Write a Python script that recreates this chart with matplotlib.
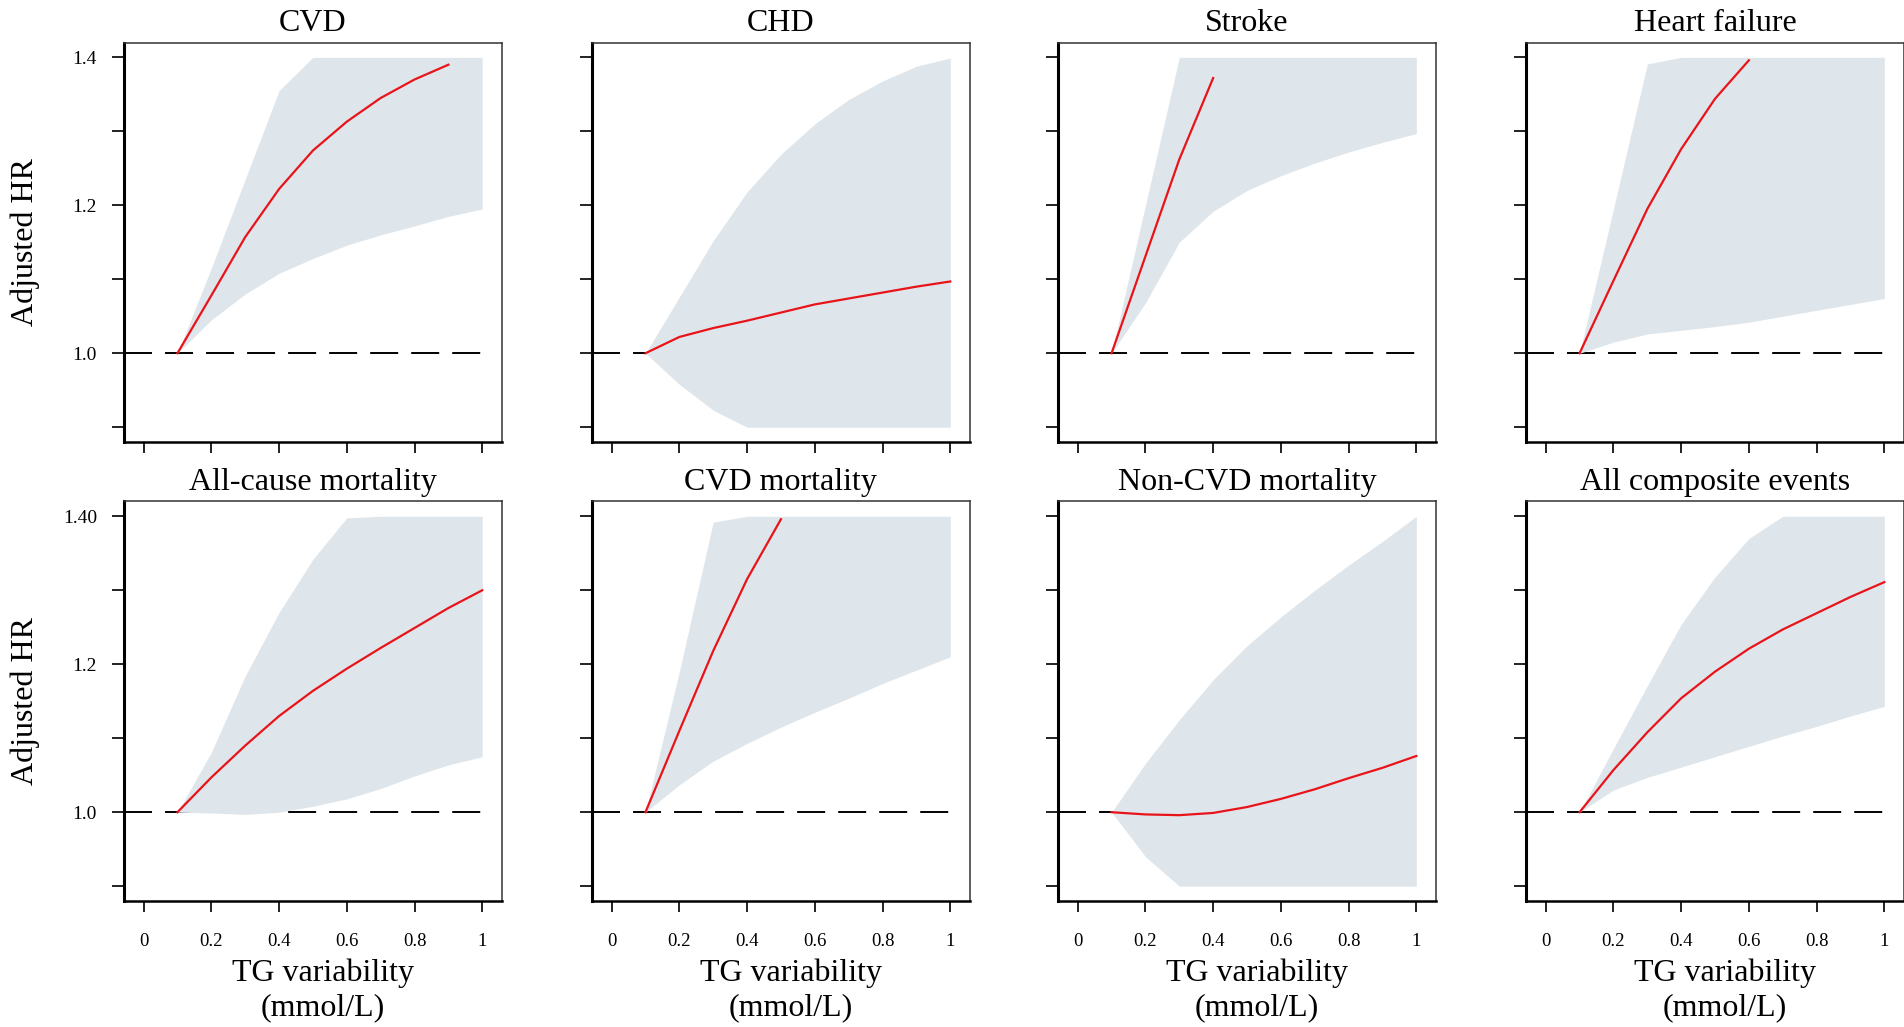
import numpy as np
import matplotlib
matplotlib.use("Agg")
import matplotlib.pyplot as plt

plt.rcParams['font.family'] = ['Liberation Serif', 'DejaVu Serif']

# TG variability grid (mmol/L)
x = [0.1, 0.2, 0.3, 0.4, 0.5, 0.6, 0.7, 0.8, 0.9, 1.0]

titles = ["CVD", "CHD", "Stroke", "Heart failure",
          "All-cause mortality", "CVD mortality", "Non-CVD mortality", "All composite events"]

# adjusted HR curves (None = not drawn, curve stops)
hr_cvd = [1.0, 1.078, 1.157, 1.222, 1.274, 1.313, 1.345, 1.370, 1.390, None]
hr_chd = [1.0, 1.022, 1.034, 1.044, 1.055, 1.066, 1.074, 1.082, 1.090, 1.097]
hr_stroke = [1.0, 1.131, 1.262, 1.372, None, None, None, None, None, None]
hr_hf = [1.0, 1.098, 1.195, 1.276, 1.344, 1.396, None, None, None, None]
hr_allcause = [1.0, 1.047, 1.090, 1.130, 1.164, 1.194, 1.222, 1.249, 1.276, 1.300]
hr_cvdmort = [1.0, 1.110, 1.218, 1.315, 1.396, None, None, None, None, None]
hr_noncvd = [1.0, 0.997, 0.996, 0.999, 1.007, 1.018, 1.031, 1.046, 1.060, 1.076]
hr_comp = [1.0, 1.057, 1.108, 1.154, 1.190, 1.221, 1.247, 1.269, 1.291, 1.311]

# 95% CI bands (clipped at the plot range)
lo_cvd = [1.0, 1.045, 1.080, 1.108, 1.128, 1.146, 1.160, 1.172, 1.185, 1.195]
up_cvd = [1.0, 1.115, 1.235, 1.355, 1.400, 1.400, 1.400, 1.400, 1.400, 1.400]
lo_chd = [1.0, 0.958, 0.923, 0.900, 0.900, 0.900, 0.900, 0.900, 0.900, 0.900]
up_chd = [1.0, 1.076, 1.152, 1.218, 1.269, 1.310, 1.343, 1.368, 1.388, 1.399]
lo_stroke = [1.0, 1.068, 1.150, 1.192, 1.220, 1.240, 1.257, 1.272, 1.285, 1.297]
up_stroke = [1.0, 1.200, 1.400, 1.400, 1.400, 1.400, 1.400, 1.400, 1.400, 1.400]
lo_hf = [1.0, 1.015, 1.026, 1.031, 1.036, 1.042, 1.050, 1.058, 1.066, 1.074]
up_hf = [1.0, 1.195, 1.391, 1.400, 1.400, 1.400, 1.400, 1.400, 1.400, 1.400]
lo_allcause = [1.0, 0.999, 0.997, 1.000, 1.008, 1.018, 1.032, 1.049, 1.064, 1.075]
up_allcause = [1.0, 1.081, 1.184, 1.270, 1.342, 1.398, 1.400, 1.400, 1.400, 1.400]
lo_cvdmort = [1.0, 1.037, 1.069, 1.093, 1.115, 1.135, 1.154, 1.174, 1.192, 1.210]
up_cvdmort = [1.0, 1.190, 1.392, 1.400, 1.400, 1.400, 1.400, 1.400, 1.400, 1.400]
lo_noncvd = [1.0, 0.940, 0.900, 0.900, 0.900, 0.900, 0.900, 0.900, 0.900, 0.900]
up_noncvd = [1.0, 1.066, 1.125, 1.179, 1.225, 1.264, 1.300, 1.334, 1.366, 1.400]
lo_comp = [1.0, 1.030, 1.047, 1.061, 1.075, 1.089, 1.103, 1.116, 1.130, 1.143]
up_comp = [1.0, 1.086, 1.171, 1.254, 1.318, 1.370, 1.400, 1.400, 1.400, 1.400]

hr_all = [hr_cvd, hr_chd, hr_stroke, hr_hf, hr_allcause, hr_cvdmort, hr_noncvd, hr_comp]
lo_all = [lo_cvd, lo_chd, lo_stroke, lo_hf, lo_allcause, lo_cvdmort, lo_noncvd, lo_comp]
up_all = [up_cvd, up_chd, up_stroke, up_hf, up_allcause, up_cvdmort, up_noncvd, up_comp]

xticks = [0, 0.2, 0.4, 0.6, 0.8, 1.0]
xticklabels = ["0", "0.2", "0.4", "0.6", "0.8", "1"]
yticks = [0.9, 1.0, 1.1, 1.2, 1.3, 1.4]
yticklabels_top = ["", "1.0", "", "1.2", "", "1.4"]
yticklabels_bottom = ["", "1.0", "", "1.2", "", "1.40"]

band_color = '#dfe6eb'
line_color = '#e8141a'

fig = plt.figure(figsize=(19.04, 10.27), dpi=100)

lefts = [0.0651, 0.3109, 0.5557, 0.8015]
bottoms = [0.5696, 0.1227]
w = 0.1985
h = 0.389

for i in range(8):
	row = i // 4
	col = i % 4
	ax = fig.add_axes([lefts[col], bottoms[row], w, h])

	# reference line first, band on top of it, then the curve
	ax.axhline(1.0, xmin=0, xmax=0.965, color='black', lw=1.4,
			   linestyle=(0, (14.4, 6.7)), zorder=1)
	ax.fill_between(x, lo_all[i], up_all[i], color=band_color, lw=0, zorder=2)
	xs = [a for a, b in zip(x, hr_all[i]) if b is not None]
	ys = [b for b in hr_all[i] if b is not None]
	ax.plot(xs, ys, color=line_color, lw=1.6, zorder=3)

	ax.set_xlim(-0.058, 1.058)
	ax.set_ylim(0.88, 1.42)
	ax.set_xticks(xticks)
	ax.set_yticks(yticks)

	if row == 1:
		ax.set_xticklabels(xticklabels, fontsize=13.5)
		ax.set_xlabel("TG variability\n(mmol/L)", fontsize=23, va='top')
		ax.xaxis.set_label_coords(0.527, -0.145)
	else:
		ax.set_xticklabels([])
	if col == 0:
		ax.set_yticklabels(yticklabels_top if row == 0 else yticklabels_bottom, fontsize=14)
		ax.set_ylabel("Adjusted HR", fontsize=23)
		ax.yaxis.set_label_coords(-0.222, 0.5)
	else:
		ax.set_yticklabels([])

	ax.tick_params(axis='x', direction='out', length=8, width=1.4, pad=15, color='#222222')
	ax.tick_params(axis='y', direction='out', length=8.5, width=1.4, pad=11, color='#222222')

	for s in ['top', 'right']:
		ax.spines[s].set_linewidth(1.1)
		ax.spines[s].set_color('#333333')
	ax.spines['left'].set_linewidth(2.2)
	ax.spines['bottom'].set_linewidth(1.8)
	ax.spines['left'].set_color('black')
	ax.spines['bottom'].set_color('black')

	ax.set_title(titles[i], fontsize=23, pad=8)

fig.savefig('out.png', dpi=100)
plt.close(fig)
